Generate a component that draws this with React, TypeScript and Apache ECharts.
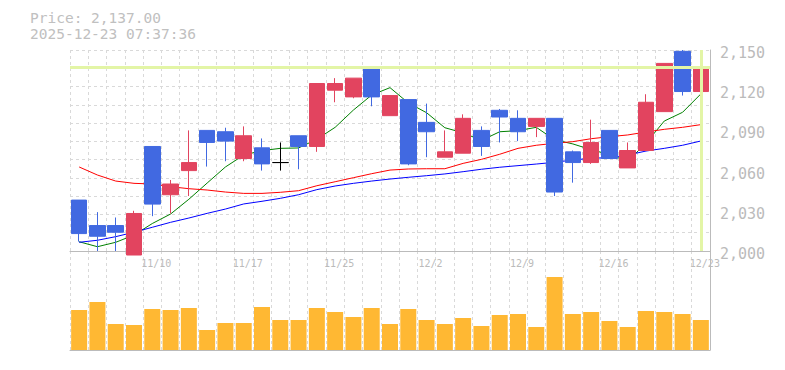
import React, { useEffect, useRef } from "react";
import * as echarts from "echarts";

const dates = [
  "11/4", "11/5", "11/6", "11/7", "11/10", "11/11", "11/12", "11/13", "11/14",
  "11/17", "11/18", "11/19", "11/20", "11/21", "11/25", "11/26", "11/27", "11/28",
  "12/1", "12/2", "12/3", "12/4", "12/5", "12/8", "12/9", "12/10", "12/11", "12/12",
  "12/15", "12/16", "12/17", "12/18", "12/19", "12/22", "12/23",
];
const labelDates = ["11/10", "11/17", "11/25", "12/2", "12/9", "12/16", "12/23"];

const openPrices = [
  2038, 2019, 2019, 1997, 2078, 2042, 2060, 2090, 2089, 2069, 2077, 2066, 2086, 2078,
  2120, 2115, 2137, 2101, 2113, 2096, 2070, 2073, 2090, 2105, 2099, 2093, 2099, 2074,
  2066, 2090, 2062, 2075, 2104, 2149, 2119,
];
const closePrices = [
  2013, 2011, 2014, 2028, 2035, 2050, 2066, 2081, 2082, 2086, 2065, 2066, 2078, 2125,
  2125, 2129, 2115, 2116, 2065, 2089, 2074, 2099, 2078, 2100, 2089, 2099, 2044, 2066,
  2081, 2069, 2075, 2111, 2140, 2119, 2137,
];
const lowPrices = [
  2007, 2000, 2000, 1997, 2026, 2028, 2041, 2063, 2067, 2067, 2060, 2060, 2061, 2074,
  2111, 2114, 2108, 2101, 2064, 2070, 2070, 2073, 2071, 2081, 2082, 2085, 2041, 2051,
  2065, 2069, 2062, 2075, 2104, 2116, 2119,
];
const highPrices = [
  2038, 2029, 2025, 2030, 2078, 2053, 2090, 2090, 2092, 2093, 2084, 2081, 2086, 2125,
  2129, 2129, 2137, 2116, 2113, 2110, 2090, 2102, 2093, 2106, 2105, 2099, 2099, 2075,
  2098, 2090, 2081, 2117, 2140, 2150, 2137,
];
const ma5 = [
  2006.9, 2003.2, 2006.5, 2011.9, 2020.5, 2027.6, 2038.6, 2050.7, 2062.7, 2071.6, 2074.9,
  2076.6, 2076.9, 2083.4, 2092.3, 2105.2, 2116.4, 2121.9, 2110.5, 2103.2, 2092.0, 2088.2,
  2082.5, 2089.0, 2089.8, 2092.3, 2083.0, 2079.9, 2075.6, 2072.0, 2067.0, 2080.5, 2097.0,
  2103.5, 2117.2,
];
const maMid = [
  2062.7, 2056.7, 2052.2, 2050.5, 2050.0, 2048.0, 2046.5, 2045.5, 2044.0, 2043.0, 2043.0,
  2043.8, 2045.0, 2048.7, 2051.7, 2054.7, 2057.7, 2060.4, 2061.2, 2061.4, 2061.4, 2065.4,
  2068.4, 2072.2, 2076.6, 2078.9, 2080.4, 2081.6, 2083.8, 2085.3, 2086.6, 2088.8, 2090.8,
  2092.3, 2094.3,
];
const maLong = [
  2006.5, 2008.0, 2010.7, 2014.0, 2017.7, 2021.4, 2024.6, 2028.1, 2031.3, 2035.1, 2037.1,
  2039.3, 2042.0, 2045.8, 2048.5, 2050.5, 2052.2, 2053.7, 2055.0, 2056.2, 2057.5, 2059.2,
  2061.0, 2062.5, 2063.7, 2064.9, 2066.2, 2067.9, 2069.2, 2069.7, 2071.6, 2074.6, 2076.6,
  2078.9, 2082.1,
];
const volumes = [
  400, 480, 260, 250, 410, 400, 420, 200, 270, 270, 430, 300, 300, 420, 380, 330, 420, 260,
  410, 300, 260, 320, 240, 350, 360, 230, 730, 360, 380, 290, 230, 390, 380, 360, 300,
];
const PRICE_MIN = 2000;
const PRICE_MAX = 2150;
const PRICE_STEP = 30;
const VOLUME_MAX = 990;
const timestamp = "2025-12-23 07:37:36";

const MONO = '"DejaVu Sans Mono", "Liberation Mono", monospace';
const GRID_LINE = { show: true, lineStyle: { color: "#d9d9d9", type: [3, 3] as any, width: 1 } };

export default function App() {
  const ref = useRef<HTMLDivElement>(null);
  useEffect(() => {
    if (!ref.current) return;
    const chart = echarts.init(ref.current, undefined, { renderer: "svg" });
    const lastClose = closePrices[closePrices.length - 1];
    const candles = dates.map((_, i) => [openPrices[i], closePrices[i], lowPrices[i], highPrices[i]]);
    const option: any = {
      animation: false,
      backgroundColor: "#fff",
      graphic: [
        {
          type: "text",
          left: 30,
          top: 10,
          style: {
            text: "Price: " + lastClose.toLocaleString("en-US", { minimumFractionDigits: 2, maximumFractionDigits: 2 }),
            font: `14.5px ${MONO}`,
            fill: "#c0c0c0",
          },
        },
        {
          type: "text",
          left: 30,
          top: 26,
          style: { text: timestamp, font: `14.5px ${MONO}`, fill: "#c0c0c0" },
        },
      ],
      grid: [
        { left: 70, right: 75, top: 50, height: 201 },
        { left: 70, right: 75, top: 251, height: 99 },
      ],
      xAxis: [
        {
          type: "category",
          gridIndex: 0,
          data: dates,
          boundaryGap: true,
          axisLine: { show: true, lineStyle: { color: "#bbb" } },
          axisTick: { show: false },
          splitLine: { ...GRID_LINE, interval: 0 },
          axisLabel: {
            interval: (_i: number, v: string) => labelDates.includes(v),
            color: "#bbb",
            fontFamily: MONO,
            fontSize: 10,
            margin: 7,
            padding: [0, 0, 0, 8],
          },
        },
        {
          type: "category",
          gridIndex: 1,
          data: dates,
          boundaryGap: true,
          axisLine: { show: true, lineStyle: { color: "#bbb" } },
          axisTick: { show: false },
          axisLabel: { show: false },
          splitLine: { ...GRID_LINE, interval: 0 },
        },
      ],
      yAxis: [
        {
          type: "value",
          gridIndex: 0,
          min: PRICE_MIN,
          max: PRICE_MAX,
          position: "right",
          axisLine: { show: false },
          axisTick: { show: false },
          axisLabel: { show: false },
          splitLine: { show: false },
        },
        {
          type: "value",
          gridIndex: 0,
          min: 0,
          max: 11,
          interval: 1,
          position: "right",
          axisLine: { show: false },
          axisTick: { show: false },
          axisLabel: { show: false },
          splitLine: GRID_LINE,
        },
        {
          type: "value",
          gridIndex: 0,
          min: 0,
          max: PRICE_MAX - PRICE_MIN,
          interval: PRICE_STEP,
          position: "right",
          axisLine: { show: true, lineStyle: { color: "#bbb" } },
          axisTick: { show: false },
          splitLine: { show: false },
          axisLabel: {
            formatter: (v: number) => (PRICE_MIN + v).toLocaleString("en-US"),
            color: "#bbb",
            fontFamily: MONO,
            fontSize: 15,
            margin: 10,
            verticalAlign: "top",
            lineHeight: 6,
          },
        },
        {
          type: "value",
          gridIndex: 1,
          min: 0,
          max: VOLUME_MAX,
          position: "right",
          axisLine: { show: true, lineStyle: { color: "#bbb" } },
          axisTick: { show: false },
          axisLabel: { show: false },
          splitLine: { show: false },
        },
      ],
      series: [
        {
          type: "line",
          name: "MA5",
          xAxisIndex: 0,
          yAxisIndex: 0,
          data: ma5,
          symbol: "none",
          z: 2,
          lineStyle: { color: "#008000", width: 1 },
          markLine: {
            symbol: "none",
            silent: true,
            label: { show: false },
            lineStyle: { color: "#e3f5a6", width: 3, type: "solid" },
            data: [{ yAxis: lastClose }, { xAxis: dates[dates.length - 1] }],
          },
        },
        {
          type: "line",
          name: "MA mid",
          xAxisIndex: 0,
          yAxisIndex: 0,
          data: maMid,
          symbol: "none",
          z: 2,
          lineStyle: { color: "#ff0000", width: 1 },
        },
        {
          type: "line",
          name: "MA long",
          xAxisIndex: 0,
          yAxisIndex: 0,
          data: maLong,
          symbol: "none",
          z: 2,
          lineStyle: { color: "#0000ff", width: 1 },
        },
        {
          type: "candlestick",
          xAxisIndex: 0,
          yAxisIndex: 0,
          data: candles,
          barWidth: 16,
          clip: false,
          z: 3,
          itemStyle: {
            color: "#e2445f",
            color0: "#4169e1",
            borderColor: "#e2445f",
            borderColor0: "#4169e1",
            borderColorDoji: "#000",
            borderWidth: 1,
          },
        },
        {
          type: "bar",
          xAxisIndex: 1,
          yAxisIndex: 3,
          data: volumes,
          barWidth: 16,
          itemStyle: { color: "#ffb833" },
        },
      ],
    };
    chart.setOption(option);
    return () => chart.dispose();
  }, []);
  return <div ref={ref} style={{ position: "fixed", left: 0, top: 0, width: 785, height: 370 }} />;
}
